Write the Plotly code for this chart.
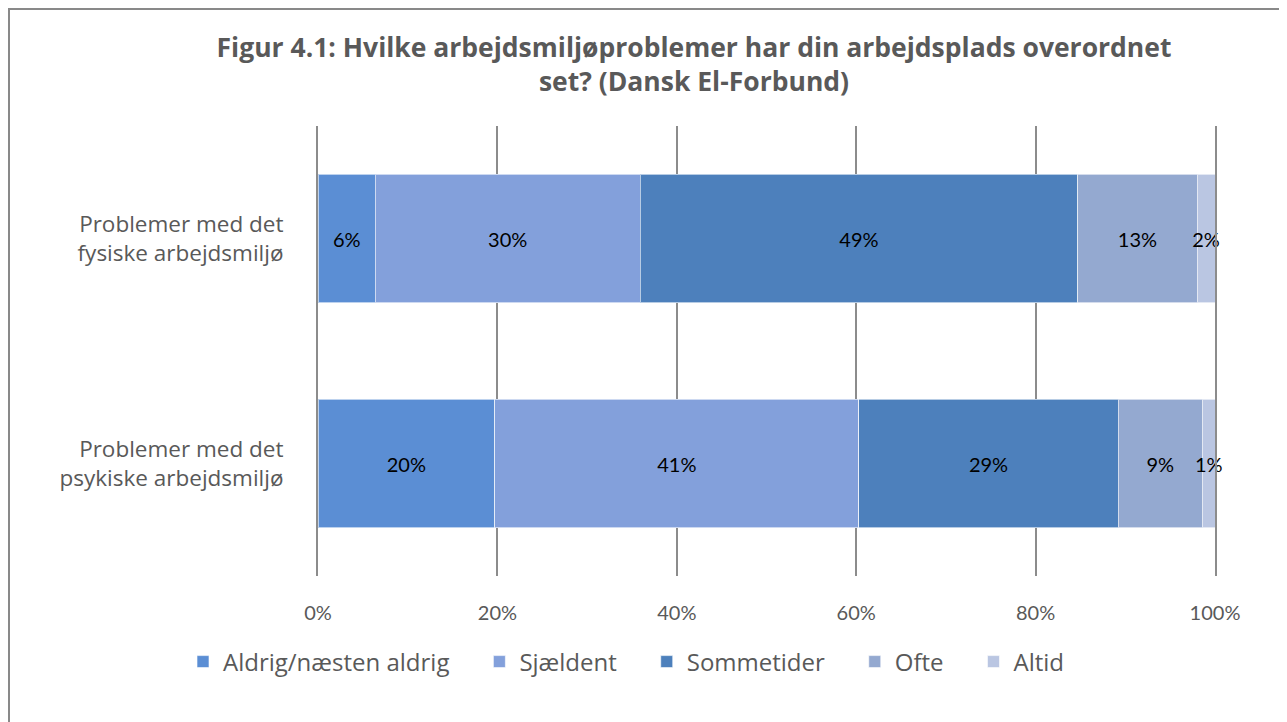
import plotly.graph_objects as go

categories = ["Problemer med det<br>fysiske arbejdsmiljø", "Problemer med det<br>psykiske arbejdsmiljø"]
series_names = ["Aldrig/næsten aldrig", "Sjældent", "Sommetider", "Ofte", "Altid"]
aldrig = [6.4, 19.7]
sjaeldent = [29.5, 40.6]
sommetider = [48.8, 28.9]
ofte = [13.3, 9.4]
altid = [2.0, 1.4]
colors = ["#5B8ED4", "#83A0DB", "#4D80BC", "#94A9D0", "#BAC6E2"]
tick_vals = [0, 20, 40, 60, 80, 100]
tick_text = ["0%", "20%", "40%", "60%", "80%", "100%"]

PAD = "\u00a0" * 4

fig = go.Figure()
for i, (name, vals, col) in enumerate(zip(series_names, [aldrig, sjaeldent, sommetider, ofte, altid], colors)):
    fig.add_trace(go.Bar(
        y=categories, x=vals, name=name + (PAD if i < len(series_names) - 1 else ""), orientation="h",
        marker=dict(color=col, line=dict(color="rgba(255,255,255,0.6)", width=1)),
        texttemplate="%{x:.0f}%", textposition="inside", insidetextanchor="middle",
        textangle=0, constraintext="none", cliponaxis=False,
        textfont=dict(family="Lato, sans-serif", size=20, color="#000000"),
        hoverinfo="skip",
    ))

OFF = 8  # page body margin
W, H = 1287 - OFF, 722 - OFF
L = 318 - OFF
T = 126 - OFF
R = W - (1215 - OFF)
B = H - (576 - OFF)
pw, ph = W - L - R, H - T - B

fig.update_layout(
    width=W, height=H,
    barmode="stack", bargap=0.43,
    plot_bgcolor="white", paper_bgcolor="white",
    margin=dict(l=L, r=R, t=T, b=B, pad=0),
    title=dict(
        text="Figur 4.1: Hvilke arbejdsmiljøproblemer har din arbejdsplads overordnet<br>set? (Dansk El-Forbund)",
        x=(694 - OFF) / W, xanchor="center", y=1 - 49 / H, yanchor="top",
        font=dict(family="Open Sans, sans-serif", size=26.5, color="#595959", weight="bold"),
    ),
    xaxis=dict(
        range=[0, 100], tickvals=tick_vals, ticktext=tick_text,
        showgrid=True, gridcolor="#8C8C8C", gridwidth=2, zeroline=False,
        showline=False, ticks="",
        tickfont=dict(family="Lato, sans-serif", size=20, color="#595959"),
        ticklabelstandoff=23,
    ),
    yaxis=dict(
        autorange="reversed", showgrid=False, zeroline=False,
        showline=True, mirror=True, linecolor="#8C8C8C", linewidth=2,
        ticks="", ticklabelstandoff=28,
        tickfont=dict(family="Open Sans, sans-serif", size=22.5, color="#595959"),
    ),
    legend=dict(
        orientation="h", x=(183 - 318) / pw, xanchor="left",
        y=-(662 - 576) / ph, yanchor="middle",
        font=dict(family="Open Sans, sans-serif", size=24, color="#595959"),
        traceorder="normal", itemclick=False, itemdoubleclick=False,
    ),
    showlegend=True,
)

fig.add_shape(type="rect", xref="paper", yref="paper",
              x0=(1 - L) / pw, x1=(1281 - OFF - L) / pw,
              y0=-(H + 10 - (T + ph)) / ph, y1=(T + ph - 1) / ph,
              line=dict(color="#898989", width=2), fillcolor="rgba(0,0,0,0)", layer="below")

fig.write_html("out.html")
